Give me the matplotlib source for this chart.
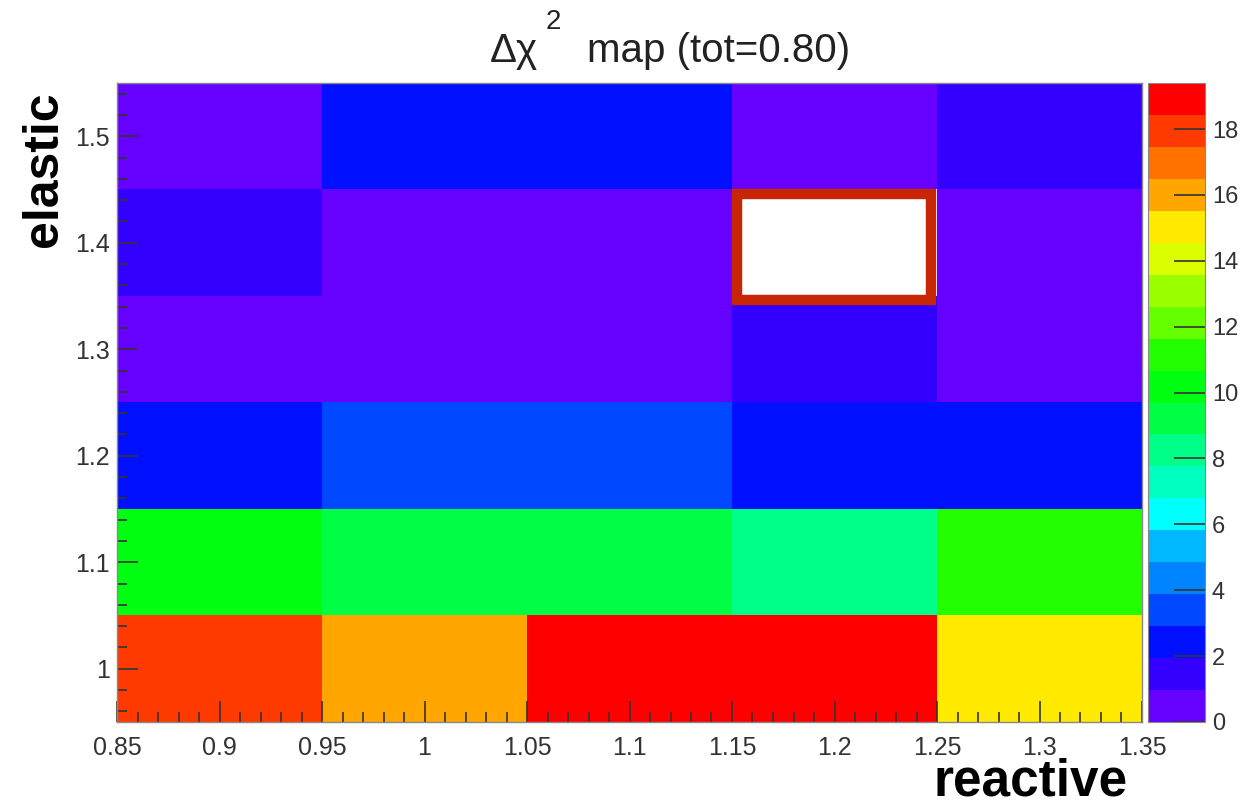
import numpy as np
import matplotlib
matplotlib.use("Agg")
import matplotlib.pyplot as plt
from matplotlib.colors import ListedColormap, BoundaryNorm
from matplotlib.patches import Rectangle
from matplotlib.ticker import MultipleLocator, FormatStrFormatter

plt.rcParams['font.family'] = ['Liberation Sans', 'DejaVu Sans']

# donnees : centres des bins
reactive = [0.9, 1.0, 1.1, 1.2, 1.3]
elastic = [1.0, 1.1, 1.2, 1.3, 1.4, 1.5]
bin_w = 0.1

# delta chi2 (lignes = elastic, colonnes = reactive), 0 = minimum (non dessine)
dchi2_10 = [17.8, 16.0, 19.4, 19.1, 15.1]
dchi2_11 = [10.2, 9.1, 9.2, 8.1, 11.1]
dchi2_12 = [2.4, 3.3, 3.2, 2.3, 2.2]
dchi2_13 = [0.5, 0.4, 0.5, 1.3, 0.6]
dchi2_14 = [1.2, 0.3, 0.2, 0.0, 0.5]
dchi2_15 = [0.8, 2.1, 2.2, 0.7, 1.4]
zmax = 19.4
cbar_ticks = [0, 2, 4, 6, 8, 10, 12, 14, 16, 18]

# palette a 20 niveaux facon ROOT
palette = ['#6600ff', '#3300ff', '#0010ff', '#0048ff', '#0084ff',
           '#00b8ff', '#00ffff', '#00ffc0', '#00ff88', '#00ff44',
           '#00ff10', '#24ff00', '#66ff00', '#9cff00', '#dcff00',
           '#ffea00', '#ffa600', '#ff7200', '#ff3a00', '#ff0000']

Z = np.array([dchi2_10, dchi2_11, dchi2_12, dchi2_13, dchi2_14, dchi2_15])
Z = np.ma.masked_where(Z <= 0, Z)

xe = np.append(np.array(reactive) - bin_w / 2, reactive[-1] + bin_w / 2)
ye = np.append(np.array(elastic) - bin_w / 2, elastic[-1] + bin_w / 2)

cmap = ListedColormap(palette)
cmap.set_bad('white')
norm = BoundaryNorm(np.linspace(0, zmax, len(palette) + 1), cmap.N)

W, H = 1247, 806
fig = plt.figure(figsize=(W / 100, H / 100), dpi=100)
ax = fig.add_axes([117 / W, 1 - 722 / H, 1025 / W, 639 / H])
mesh = ax.pcolormesh(xe, ye, Z, cmap=cmap, norm=norm)
ax.set_xlim(xe[0], xe[-1])
ax.set_ylim(ye[0], ye[-1])

# cadre rouge autour du minimum
ax.add_patch(Rectangle((1.1525, 1.3465), 0.0945, 0.0995, fill=False,
                       edgecolor='#c82406', linewidth=7.5, zorder=5))

ax.xaxis.set_major_locator(MultipleLocator(0.05))
ax.xaxis.set_minor_locator(MultipleLocator(0.01))
ax.yaxis.set_major_locator(MultipleLocator(0.1))
ax.yaxis.set_minor_locator(MultipleLocator(0.02))
ax.xaxis.set_major_formatter(FormatStrFormatter('%g'))
ax.yaxis.set_major_formatter(FormatStrFormatter('%g'))
ax.tick_params(which='both', direction='in', top=False, right=False,
               colors='#333333', labelsize=18, width=1.2)
ax.tick_params(which='major', length=15)
ax.tick_params(which='minor', length=7)
ax.tick_params(axis='x', which='major', pad=10)
ax.tick_params(axis='y', which='major', pad=5)
for s in ax.spines.values():
    s.set_color('#888888')
    s.set_linewidth(1.0)

# titre facon ROOT (exposant haut)
fig.text(490 / W, 1 - 62 / H, 'Δχ', fontsize=29, color='#222222',
         ha='left', va='baseline')
fig.text(546 / W, 1 - 29 / H, '2', fontsize=20, color='#222222',
         ha='left', va='baseline')
fig.text(850 / W, 1 - 62 / H, 'map (tot=0.80)', fontsize=29, color='#222222',
         ha='right', va='baseline')

fig.text(44 / W, 1 - 169 / H, 'elastic', rotation=90, fontsize=36,
         fontweight='bold', ha='center', va='center')
fig.text(1128 / W, 1 - 782 / H, 'reactive', fontsize=37,
         fontweight='bold', ha='right', va='center')

cax = fig.add_axes([1148 / W, 1 - 722 / H, 57 / W, 639 / H])
cb = fig.colorbar(mesh, cax=cax, ticks=cbar_ticks)
cb.outline.set_edgecolor('#888888')
cax.minorticks_off()
cax.tick_params(which='major', direction='in', length=22, width=1.2,
                colors='#333333', labelsize=17, pad=5)
cax.yaxis.set_major_formatter(FormatStrFormatter('%g'))

plt.savefig('out.png', dpi=100)
